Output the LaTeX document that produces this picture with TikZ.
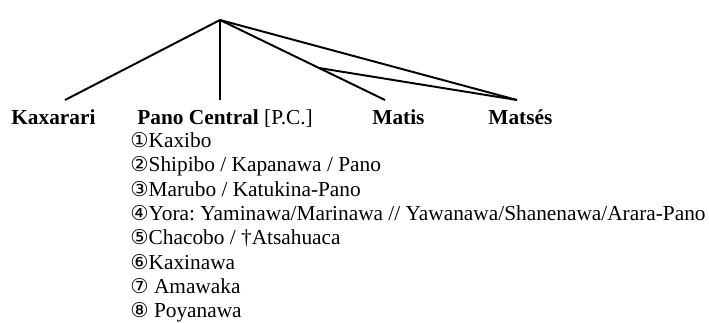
\documentclass[tikz,border=0pt]{standalone}
\usepackage{fontspec}
\setmainfont{Liberation Serif}
\newfontfamily\circfont{DejaVu Sans}
\newcommand{\circnum}[1]{{\circfont\fontsize{11.5}{12}\selectfont #1}}
\usetikzlibrary{positioning,calc}
\frenchspacing

\begin{document}
\begin{tikzpicture}[x=0.5625pt, y=-0.5625pt,
        branch/.style={line width=1.1pt},
        lang/.style={anchor=base west, inner sep=0pt, font=\fontsize{12}{14}\selectfont\bfseries},
        sub/.style={anchor=base west, inner sep=0pt, font=\fontsize{12}{14}\selectfont}]

    \useasboundingbox (0,0) rectangle (709,322);

    % tree points
    \coordinate (top) at (220,20);
    \coordinate (kaxend) at (65,100);
    \coordinate (pcend) at (220,100);
    \coordinate (matisend) at (385,100);
    \coordinate (matsesend) at (517,100);
    \coordinate (mm) at ($(top)!0.6!(matisend)$);

    % branches
    \draw[branch] (top) -- (kaxend);
    \draw[branch] (top) -- (pcend);
    \draw[branch] (top) -- (matisend);
    \draw[branch] (top) -- (matsesend);
    \draw[branch] (mm) -- (matsesend);

    % languages
    \node[lang] (kaxarari) at (11,124.5) {Kaxarari};
    \node[lang] (panocentral) at (137,124.5) {Pano Central \mdseries[P.C.]};
    \node[lang] (matis) at (372,124.5) {Matis};
    \node[lang] (matses) at (488,124.5) {Matsés};

    % Pano Central members
    \node[sub] (pc1) at (130,147.5) {\circnum{①}Kaxibo};
    \node[sub] (pc2) at (130,171.8) {\circnum{②}Shipibo / Kapanawa / Pano};
    \node[sub] (pc3) at (130,196.1) {\circnum{③}Marubo / Katukina-Pano};
    \node[sub] (pc4) at (130,220.4) {\circnum{④}Yora: Yaminawa/Marinawa // Yawanawa/Shanenawa/Arara-Pano};
    \node[sub] (pc5) at (130,244.7) {\circnum{⑤}Chacobo / †Atsahuaca};
    \node[sub] (pc6) at (130,269) {\circnum{⑥}Kaxinawa};
    \node[sub] (pc7) at (130,293.3) {\circnum{⑦} Amawaka};
    \node[sub] (pc8) at (130,317.6) {\circnum{⑧} Poyanawa};

\end{tikzpicture}
\end{document}
